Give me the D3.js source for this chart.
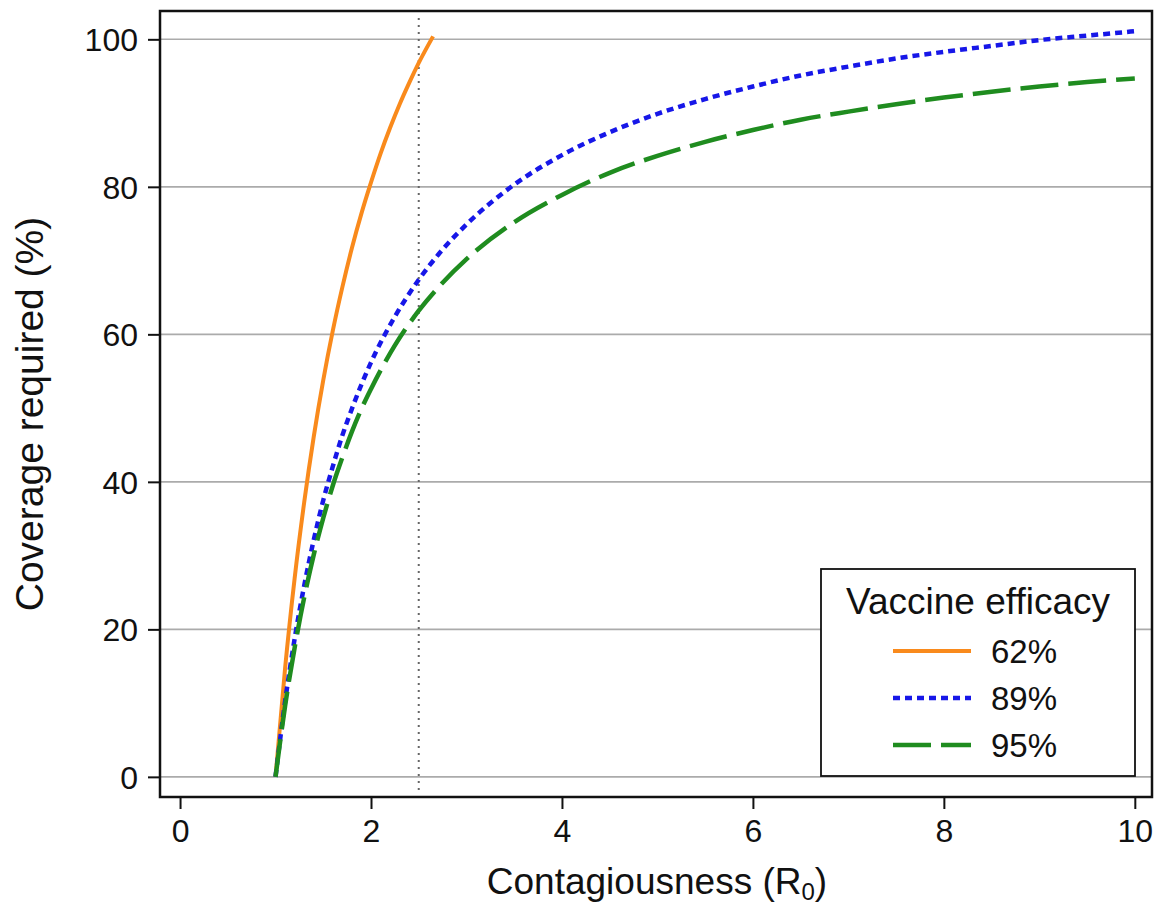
<!DOCTYPE html>
<html>
<head>
<meta charset="utf-8">
<script src="https://cdn.jsdelivr.net/npm/d3@7"></script>
<style>
  html, body { margin: 0; padding: 0; background: #fff; }
  svg { display: block; font-family: "Liberation Sans", Arial, Helvetica, sans-serif; }
</style>
</head>
<body>
<svg id="chart" width="1159" height="905"></svg>
<script>
// ---- Data ----
const r0Orange = [1.0, 1.1, 1.2, 1.3, 1.4, 1.5, 1.6, 1.7, 1.8, 1.9, 2.0, 2.1, 2.2, 2.3, 2.4, 2.5, 2.65];
const cov62 = [0, 14.7, 26.9, 37.2, 46.1, 53.8, 60.5, 66.4, 71.7, 76.4, 80.6, 84.5, 88.0, 91.2, 94.1, 96.8, 100.4];

const r0Values = [1.0, 1.1, 1.2, 1.3, 1.4, 1.5, 1.6, 1.7, 1.8, 1.9, 2.0, 2.25, 2.5, 2.75, 3.0, 3.5, 4.0, 4.5, 5.0, 5.5, 6.0, 6.5, 7.0, 7.5, 8.0, 8.5, 9.0, 9.5, 10.0];
const cov89 = [0, 10.2, 18.7, 25.9, 32.1, 37.5, 42.1, 46.3, 49.9, 53.2, 56.2, 62.4, 67.4, 71.5, 74.9, 80.3, 84.3, 87.4, 89.9, 91.9, 93.6, 95.1, 96.3, 97.4, 98.3, 99.1, 99.9, 100.5, 101.1];
const cov95 = [0, 9.6, 17.5, 24.3, 30.1, 35.1, 39.5, 43.3, 46.8, 49.9, 52.6, 58.5, 63.2, 67.0, 70.2, 75.2, 78.9, 81.9, 84.2, 86.1, 87.7, 89.1, 90.2, 91.2, 92.1, 92.9, 93.6, 94.2, 94.7];

const seriesNames = ["62%", "89%", "95%"];
const xTicks = [0, 2, 4, 6, 8, 10];
const yTicks = [0, 20, 40, 60, 80, 100];
const refR0 = 2.5;
const refExtent = [-1.8, 102.9];

const xTitle = "Contagiousness (R";
const xTitleSub = "0";
const yTitle = "Coverage required (%)";
const legendTitle = "Vaccine efficacy";

// ---- Styles ----
const styles = [
  { color: "#f98a1c", dash: null, width: 4 },
  { color: "#1717e8", dash: "7,5", width: 4.5 },
  { color: "#1f8c1f", dash: "38,10", width: 4.5 }
];

const series = [
  { name: seriesNames[0], pts: r0Orange.map((r, i) => [r, cov62[i]]) },
  { name: seriesNames[1], pts: r0Values.map((r, i) => [r, cov89[i]]) },
  { name: seriesNames[2], pts: r0Values.map((r, i) => [r, cov95[i]]) }
];

// ---- Layout ----
const frame = { left: 160, right: 1152, top: 11, bottom: 797 };
const x = d3.scaleLinear().domain([-0.21, 10.18]).range([frame.left, frame.right]);
const y = d3.scaleLinear().domain([-2.73, 103.84]).range([frame.bottom, frame.top]);

const svg = d3.select("#chart");

// gridlines
svg.append("g").selectAll("line").data(yTicks).join("line")
  .attr("x1", frame.left).attr("x2", frame.right)
  .attr("y1", d => y(d)).attr("y2", d => y(d))
  .attr("stroke", "#ababab").attr("stroke-width", 1.6);

// reference dotted line
svg.append("line")
  .attr("x1", x(refR0)).attr("x2", x(refR0))
  .attr("y1", y(refExtent[1])).attr("y2", y(refExtent[0]))
  .attr("stroke", "#666").attr("stroke-width", 2)
  .attr("stroke-dasharray", "2,5");

// curves
const line = d3.line().x(d => x(d[0])).y(d => y(d[1])).curve(d3.curveMonotoneX);
series.forEach((s, i) => {
  svg.append("path")
    .attr("d", line(s.pts))
    .attr("fill", "none")
    .attr("stroke", styles[i].color)
    .attr("stroke-width", styles[i].width)
    .attr("stroke-dasharray", styles[i].dash)
    .attr("stroke-linecap", "butt");
});

// frame
svg.append("rect")
  .attr("x", frame.left).attr("y", frame.top)
  .attr("width", frame.right - frame.left).attr("height", frame.bottom - frame.top)
  .attr("fill", "none").attr("stroke", "#111").attr("stroke-width", 2.5);

// axes
const xAxis = d3.axisBottom(x).tickValues(xTicks).tickSize(12).tickPadding(10).tickFormat(d3.format("d"));
const gx = svg.append("g").attr("transform", `translate(0,${frame.bottom})`).call(xAxis);
gx.select(".domain").remove();
gx.selectAll(".tick line").attr("stroke", "#111").attr("stroke-width", 2);
gx.selectAll(".tick text").attr("font-size", 32).attr("fill", "#111")
  .attr("font-family", '"Liberation Sans", Arial, sans-serif').attr("dy", "0.72em");

const yAxis = d3.axisLeft(y).tickValues(yTicks).tickSize(12).tickPadding(10).tickFormat(d3.format("d"));
const gy = svg.append("g").attr("transform", `translate(${frame.left},0)`).call(yAxis);
gy.select(".domain").remove();
gy.selectAll(".tick line").attr("stroke", "#111").attr("stroke-width", 2);
gy.selectAll(".tick text").attr("font-size", 32).attr("fill", "#111")
  .attr("font-family", '"Liberation Sans", Arial, sans-serif').attr("dy", "0.36em");

// axis titles
const xt = svg.append("text")
  .attr("x", 657).attr("y", 894)
  .attr("text-anchor", "middle").attr("font-size", 37).attr("fill", "#111")
  .text(xTitle);
xt.append("tspan").attr("font-size", 24).attr("dy", 6).text(xTitleSub);
xt.append("tspan").attr("dy", -6).text(")");

svg.append("text")
  .attr("transform", "translate(43,414) rotate(-90)")
  .attr("text-anchor", "middle").attr("font-size", 39).attr("fill", "#111")
  .text(yTitle);

// legend
const lg = { left: 821, top: 569, right: 1135, bottom: 776 };
svg.append("rect")
  .attr("x", lg.left).attr("y", lg.top)
  .attr("width", lg.right - lg.left).attr("height", lg.bottom - lg.top)
  .attr("fill", "#fff").attr("stroke", "#111").attr("stroke-width", 1.8);
svg.append("text")
  .attr("x", (lg.left + lg.right) / 2).attr("y", 614)
  .attr("text-anchor", "middle").attr("font-size", 37).attr("fill", "#111")
  .text(legendTitle);

const rowY = [651, 698, 745];
series.forEach((s, i) => {
  svg.append("line")
    .attr("x1", 893).attr("x2", 971)
    .attr("y1", rowY[i]).attr("y2", rowY[i])
    .attr("stroke", styles[i].color)
    .attr("stroke-width", styles[i].width)
    .attr("stroke-dasharray", styles[i].dash);
  svg.append("text")
    .attr("x", 991).attr("y", rowY[i] + 12)
    .attr("font-size", 33).attr("fill", "#111")
    .text(s.name);
});
</script>
</body>
</html>
